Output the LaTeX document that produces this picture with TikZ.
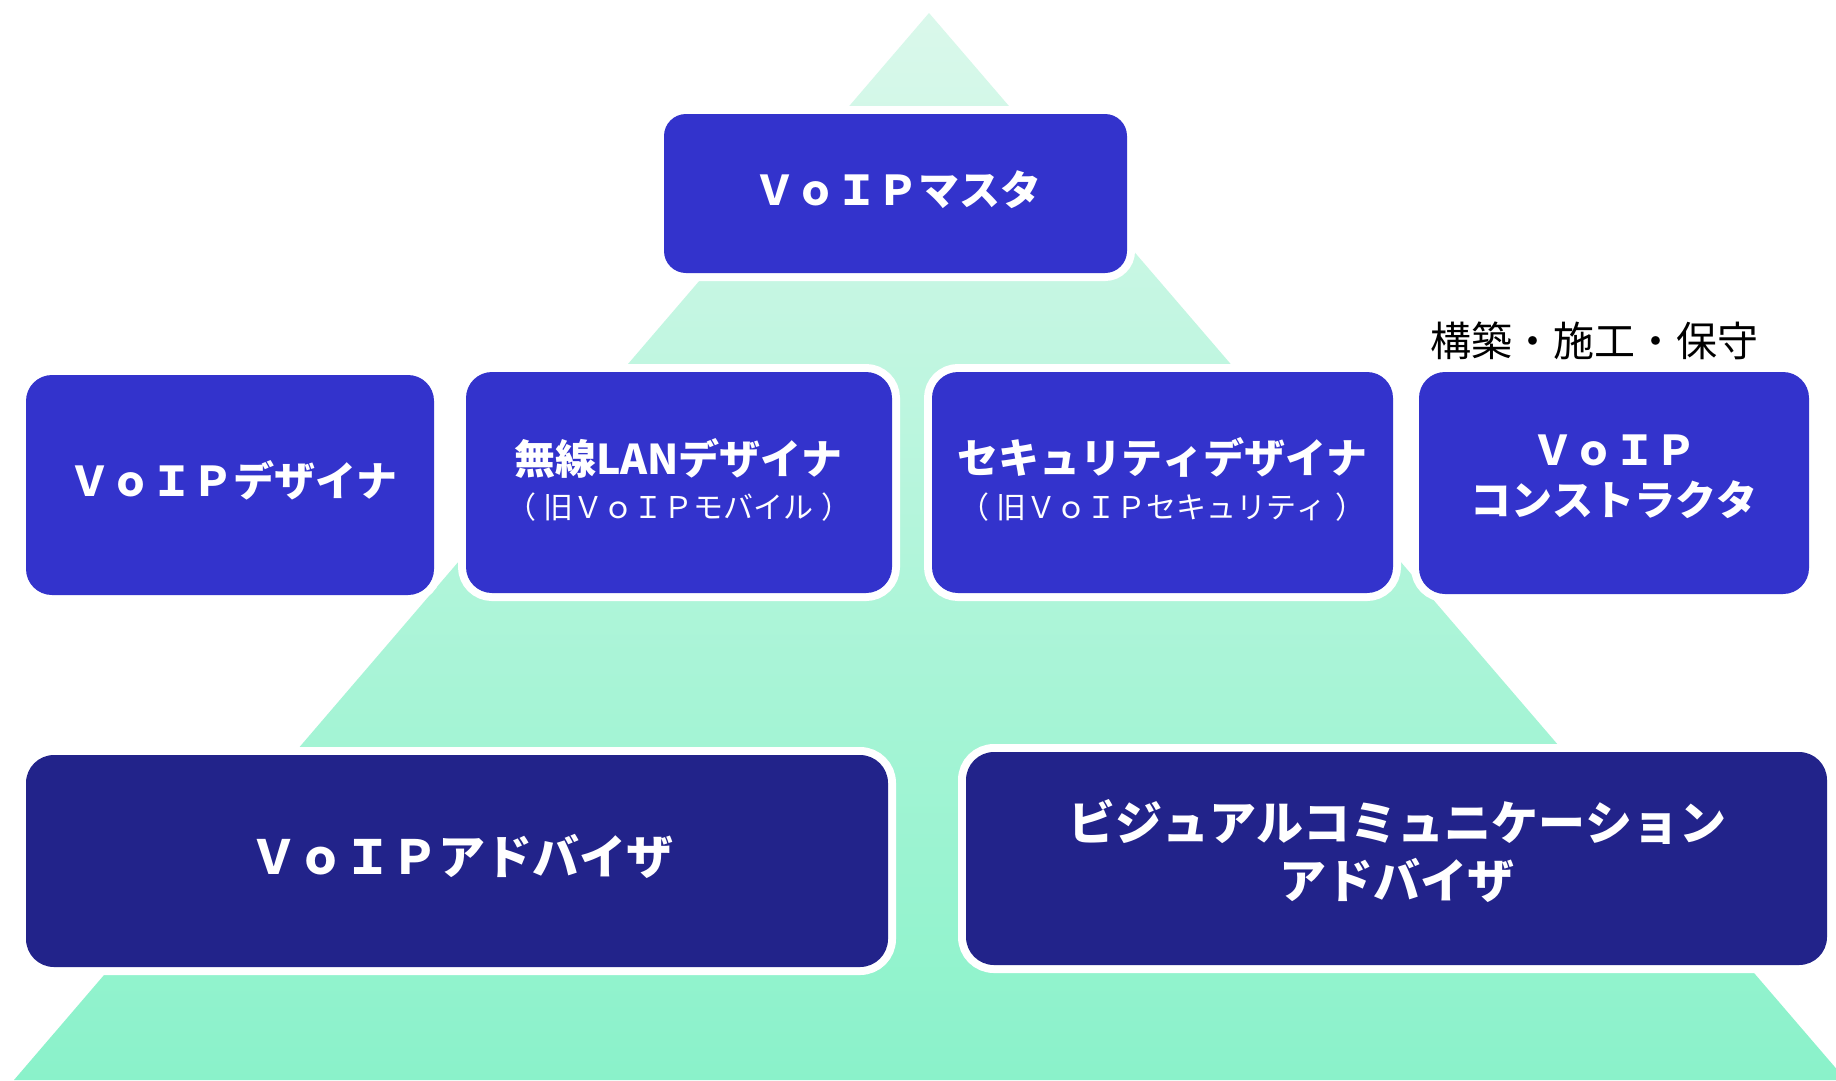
\documentclass[tikz,border=0pt]{standalone}
\usepackage{fontspec}
\newfontfamily\jp{Noto Sans CJK JP}[Kerning=Off]
\definecolor{boxblue}{RGB}{51,51,204}
\definecolor{boxnavy}{RGB}{34,35,138}
\definecolor{pyrtop}{RGB}{218,248,235}
\definecolor{pyrbot}{RGB}{138,242,202}
\begin{document}
\begin{tikzpicture}[x=1pt,y=-1pt,
  card/.style={rectangle, rounded corners=#1, inner sep=0pt,
    preaction={draw=white, line width=16pt}},
  upper/.style={card=26pt, fill=boxblue},
  lower/.style={card=28pt, fill=boxnavy},
  lbl/.style={text=white, inner sep=0pt, align=center,
    font=\jp\bfseries\fontsize{41}{50}\selectfont},
  biglbl/.style={text=white, inner sep=0pt, align=center,
    font=\jp\bfseries\fontsize{47}{58}\selectfont},
  sublbl/.style={text=white, inner sep=0pt, align=center,
    font=\jp\fontsize{30}{36}\selectfont},
  note/.style={text=black, inner sep=0pt,
    font=\jp\fontsize{41}{48}\selectfont}]
\useasboundingbox (0,0) rectangle (1836,1080);
\fill[white] (0,0) rectangle (1836,1080);
% pyramid
\coordinate (apex) at (929,13);
\coordinate (baseL) at (14,1080);
\coordinate (baseR) at (1846,1080);
\shade[top color=pyrtop, bottom color=pyrbot] (apex) -- (baseR) -- (baseL) -- cycle;
% boxes
\node[card=22pt, fill=boxblue, minimum width=463pt, minimum height=159pt] (master) at (895.5,193.5) {};
\node[upper, minimum width=408pt, minimum height=220pt] (designer) at (230,485) {};
\node[upper, minimum width=426pt, minimum height=221pt] (wlan) at (679,482.5) {};
\node[upper, minimum width=461pt, minimum height=221pt] (sec) at (1162.5,482.5) {};
\node[upper, minimum width=390pt, minimum height=222pt] (cons) at (1614,483) {};
\node[lower, minimum width=862pt, minimum height=212pt] (advisor) at (457,861) {};
\node[lower, minimum width=861pt, minimum height=213pt] (visual) at (1396.5,858.5) {};
% texts
\node[lbl] (masterT) at (898,190) {ＶｏＩＰマスタ};
\node[lbl] (designerT) at (233,480) {ＶｏＩＰデザイナ};
\node[lbl] (wlanT) at (678.5,458) {無線LANデザイナ};
\node[sublbl] (wlanS) at (679,507) {（\kern8pt 旧ＶｏＩＰモバイル\kern8pt ）};
\node[lbl] (secT) at (1162,457) {セキュリティデザイナ};
\node[sublbl] (secS) at (1162,507) {（\kern8pt 旧ＶｏＩＰセキュリティ\kern8pt ）};
\node[lbl] (consT) at (1614,477) {ＶｏＩＰ\\コンストラクタ};
\node[biglbl] (advisorT) at (462,856) {ＶｏＩＰアドバイザ};
\node[biglbl] (visualT) at (1397,851) {ビジュアルコミュニケーション\\アドバイザ};
\node[note] (consNote) at (1594,341) {構築・施工・保守};
\end{tikzpicture}
\end{document}
